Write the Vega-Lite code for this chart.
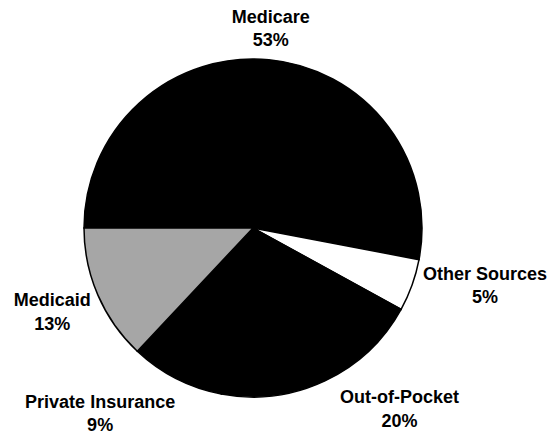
{
  "$schema": "https://vega.github.io/schema/vega-lite/v6.json",
  "width": 440,
  "height": 400,
  "autosize": {"type": "none"},
  "padding": {"left": 33, "top": 28, "right": 82, "bottom": 6},
  "background": "white",
  "config": {"view": {"stroke": null}},
  "data": {
    "values": [
      {"category": "Medicare", "value": 53, "rank": 1, "label": "Medicare\n53%"},
      {"category": "Other Sources", "value": 5, "rank": 2, "label": "Other Sources\n5%"},
      {"category": "Out-of-Pocket", "value": 20, "rank": 3, "label": "Out-of-Pocket\n20%"},
      {"category": "Private Insurance", "value": 9, "rank": 4, "label": "Private Insurance\n9%"},
      {"category": "Medicaid", "value": 13, "rank": 5, "label": "Medicaid\n13%"}
    ]
  },
  "encoding": {
    "theta": {"field": "value", "type": "quantitative", "stack": true, "scale": {"range": [4.712389, 10.995574]}},
    "order": {"field": "rank", "type": "quantitative"}
  },
  "layer": [
    {
      "mark": {"type": "arc", "outerRadius": 169, "stroke": "black", "strokeWidth": 1.5},
      "encoding": {
        "color": {
          "field": "category",
          "type": "nominal",
          "scale": {
            "domain": ["Medicare", "Other Sources", "Out-of-Pocket", "Private Insurance", "Medicaid"],
            "range": ["#000000", "#ffffff", "#000000", "#000000", "#a6a6a6"]
          },
          "legend": null
        }
      }
    },
    {
      "mark": {"type": "text", "radius": 200, "dx": -1, "dy": -11, "lineBreak": "\n", "font": "Liberation Sans", "fontWeight": "bold", "fontSize": 18, "lineHeight": 23.5, "align": "center", "baseline": "middle", "color": "black"},
      "encoding": {"text": {"condition": {"test": "datum.category === 'Medicare'", "field": "label"}, "value": ""}}
    },
    {
      "mark": {"type": "text", "radius": 220, "dx": 25, "dy": -28, "lineBreak": "\n", "font": "Liberation Sans", "fontWeight": "bold", "fontSize": 18, "lineHeight": 23, "align": "center", "baseline": "middle", "color": "black"},
      "encoding": {"text": {"condition": {"test": "datum.category === 'Other Sources'", "field": "label"}, "value": ""}}
    },
    {
      "mark": {"type": "text", "radius": 215, "dx": 55, "dy": -25, "lineBreak": "\n", "font": "Liberation Sans", "fontWeight": "bold", "fontSize": 18, "lineHeight": 24, "align": "center", "baseline": "middle", "color": "black"},
      "encoding": {"text": {"condition": {"test": "datum.category === 'Out-of-Pocket'", "field": "label"}, "value": ""}}
    },
    {
      "mark": {"type": "text", "radius": 220, "dx": -53, "dy": -21, "lineBreak": "\n", "font": "Liberation Sans", "fontWeight": "bold", "fontSize": 18, "lineHeight": 23, "align": "center", "baseline": "middle", "color": "black"},
      "encoding": {"text": {"condition": {"test": "datum.category === 'Private Insurance'", "field": "label"}, "value": ""}}
    },
    {
      "mark": {"type": "text", "radius": 210, "dx": -8, "dy": -10, "lineBreak": "\n", "font": "Liberation Sans", "fontWeight": "bold", "fontSize": 18, "lineHeight": 24, "align": "center", "baseline": "middle", "color": "black"},
      "encoding": {"text": {"condition": {"test": "datum.category === 'Medicaid'", "field": "label"}, "value": ""}}
    }
  ]
}
